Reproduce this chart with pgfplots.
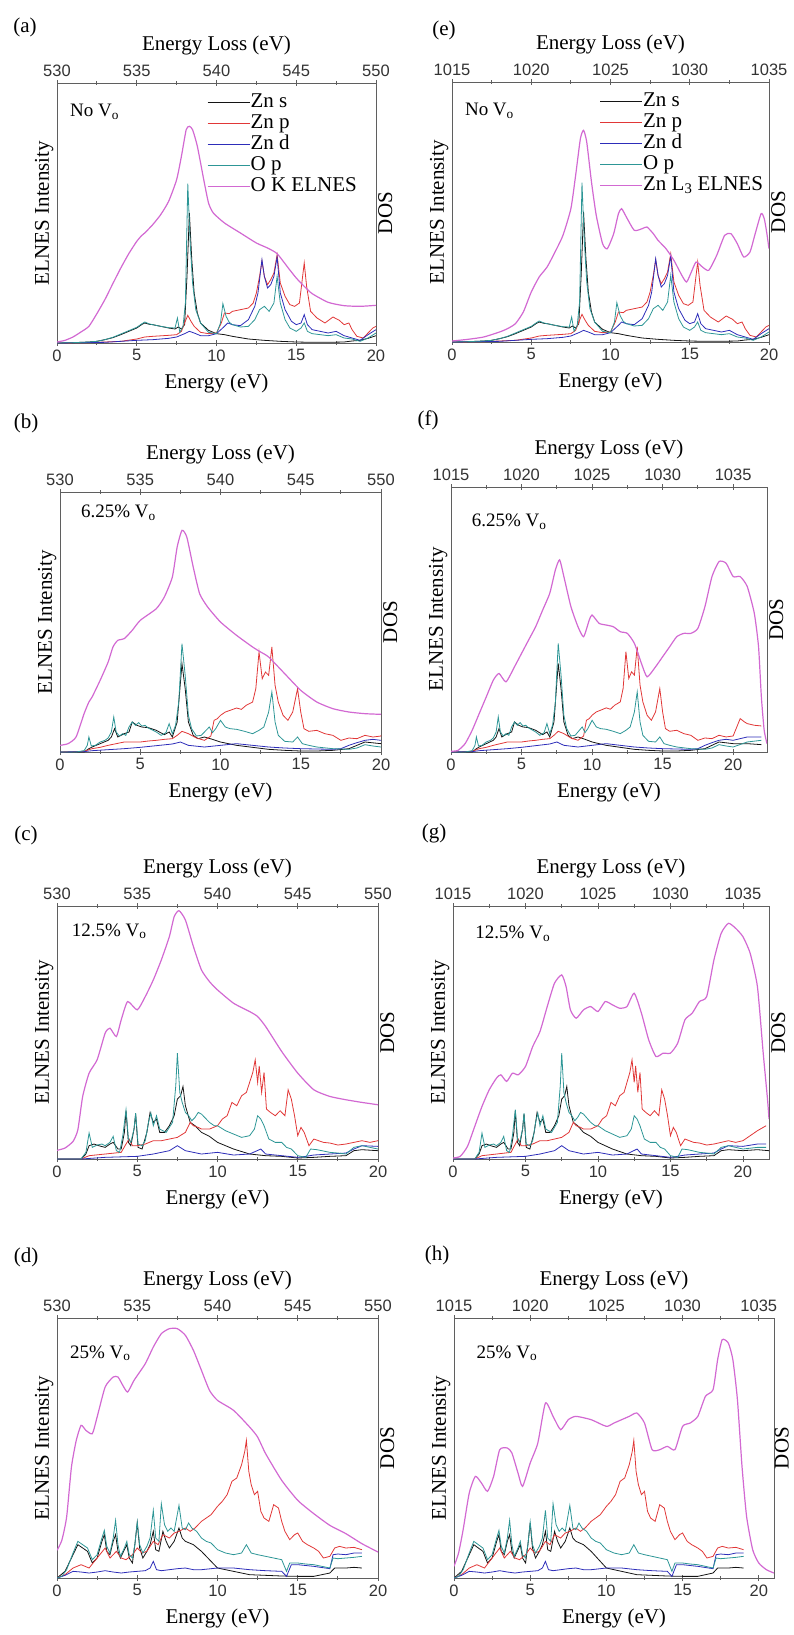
\documentclass[border=0pt]{standalone}
\usepackage{fontspec}
\setmainfont{Liberation Serif}
\newfontfamily\tickfont{Liberation Sans}
\usepackage{pgfplots}
\usepackage{pgfplotstable}
\pgfplotsset{compat=1.18}

\definecolor{cZs}{RGB}{20,20,20}
\definecolor{cZp}{RGB}{225,55,55}
\definecolor{cZd}{RGB}{45,45,185}
\definecolor{cOp}{RGB}{45,150,150}
\definecolor{cEL}{RGB}{210,105,210}
\definecolor{frame}{RGB}{95,95,95}

\newcommand\lbl{\rmfamily\fontsize{21}{24}\selectfont}
\newcommand\tag{\rmfamily\fontsize{19}{22}\selectfont}
\newcommand\mktab[2]{\pgfplotstableread[row sep=\\]{x y\\ #2}#1}

% DOS, no vacancies (a, e)
\mktab\Azs{0 0\\1 1\\2 3\\2.5 5\\3 10\\3.5 16\\4 25\\4.5 35\\5 45\\5.3 55\\5.5 60\\5.8 56\\6 55\\6.5 50\\7 45\\7.4 42\\7.6 48\\7.8 42\\8 55\\8.15 200\\8.3 390\\8.45 250\\8.6 150\\8.8 90\\9 60\\9.5 38\\10 28\\10.5 25\\11 20\\12 12\\13 8\\14 5\\15 3\\16 2\\17 2\\18 3\\18.5 6\\19 8\\19.5 14\\20 22\\}
\mktab\Azp{0 0\\2 1\\3 3\\4 5\\5 12\\5.5 18\\6 20\\7 23\\7.5 25\\7.8 35\\8 60\\8.2 83\\8.4 65\\8.6 50\\9 32\\9.5 28\\10 30\\10.3 60\\10.5 90\\10.8 88\\11 95\\11.5 100\\12 105\\12.3 120\\12.5 150\\12.7 200\\12.85 246\\13 200\\13.2 175\\13.4 190\\13.6 210\\13.8 265\\14 180\\14.3 140\\14.6 115\\14.9 110\\15.2 120\\15.35 180\\15.5 240\\15.65 170\\15.9 95\\16.3 75\\16.8 60\\17.3 78\\17.7 68\\18 55\\18.3 60\\18.5 40\\18.8 20\\19.2 15\\19.5 30\\19.8 45\\20 50\\}
\mktab\Azd{0 0\\3 2\\5 8\\6 10\\7 14\\7.5 18\\8 28\\8.3 35\\8.6 30\\9 22\\9.5 22\\10 28\\10.5 50\\10.7 60\\11 55\\11.5 52\\12 70\\12.4 110\\12.6 150\\12.85 250\\13 200\\13.2 165\\13.4 175\\13.6 200\\13.8 258\\14 150\\14.3 100\\14.7 65\\15 55\\15.3 60\\15.5 85\\15.7 55\\16 40\\17 30\\17.5 35\\18 22\\18.5 15\\19 8\\19.5 25\\20 40\\}
\mktab\Aop{0 0\\1 1\\2 3\\2.5 5\\3 10\\3.5 17\\4 27\\4.5 37\\5 47\\5.3 57\\5.5 63\\5.8 57\\6 55\\6.5 50\\7 46\\7.4 45\\7.55 75\\7.7 32\\7.9 50\\8.05 120\\8.2 478\\8.35 300\\8.5 180\\8.7 100\\9 60\\9.5 32\\10 28\\10.25 60\\10.4 118\\10.6 80\\10.8 62\\11 55\\11.5 48\\12 50\\12.4 70\\12.7 100\\13 110\\13.3 95\\13.6 120\\13.8 200\\14 120\\14.3 70\\14.6 45\\15 35\\15.3 45\\15.5 60\\15.7 35\\16 28\\17 22\\17.5 25\\18 15\\18.5 12\\19 5\\19.5 15\\20 30\\}

% DOS, 6.25% (b, f)
\mktab\Bzs{0 0\\1.5 0\\1.8 10\\2 15\\2.5 25\\3 35\\3.2 45\\3.4 70\\3.6 45\\4 55\\4.3 60\\4.5 90\\4.8 80\\5.1 75\\5.5 73\\6 65\\6.5 52\\6.8 60\\7 45\\7.3 90\\7.6 265\\7.8 190\\8 90\\8.3 50\\8.6 40\\9 45\\9.5 38\\10 30\\11 20\\12 14\\13 8\\14 5\\15 3\\16 3\\17 5\\18 10\\18.5 20\\19 30\\20 25\\21 25\\22 22\\}
\mktab\Bzp{0 0\\1.5 2\\2 10\\2.5 14\\3 20\\3.5 25\\4 30\\5 30\\5.5 33\\6 35\\6.5 38\\7 40\\7.3 50\\7.6 62\\8 55\\8.5 42\\9 35\\9.4 48\\9.6 95\\9.8 100\\10 110\\10.3 120\\10.6 125\\11 132\\11.3 128\\11.6 140\\12 150\\12.2 190\\12.4 300\\12.6 220\\12.8 240\\13 230\\13.2 315\\13.4 200\\13.6 150\\13.9 110\\14.2 95\\14.5 120\\14.8 190\\15 120\\15.2 70\\15.5 62\\16 65\\16.5 55\\17 50\\17.5 35\\18 42\\18.5 40\\19 50\\19.5 45\\20 48\\20.5 100\\20.8 90\\21 85\\21.5 80\\22 78\\}
\mktab\Bzd{0 0\\1.5 1\\2 4\\3 7\\4 10\\5 14\\6 19\\7 24\\7.5 30\\8 20\\9 15\\10 20\\11 25\\12 20\\13 15\\14 12\\15 10\\16 9\\17 8\\17.5 10\\18 20\\18.5 28\\19 35\\19.5 38\\20 35\\21 45\\22 45\\}
\mktab\Bop{0 0\\1 0\\1.5 4\\1.7 20\\1.8 45\\1.95 18\\2.2 20\\2.5 30\\2.8 35\\3 42\\3.2 60\\3.35 105\\3.5 60\\3.7 48\\3.9 55\\4.1 50\\4.3 75\\4.5 90\\4.7 80\\4.9 88\\5.1 78\\5.3 80\\5.5 72\\5.8 65\\6 60\\6.3 50\\6.6 58\\6.8 85\\7 55\\7.2 80\\7.4 150\\7.6 325\\7.8 230\\8 110\\8.2 70\\8.5 48\\8.8 50\\9.1 65\\9.3 75\\9.5 58\\9.7 70\\10 95\\10.3 75\\10.6 70\\11 68\\11.5 62\\12 55\\12.4 65\\12.7 75\\13 120\\13.2 180\\13.4 90\\13.6 50\\14 32\\14.5 30\\14.8 45\\15.1 25\\15.5 20\\16 15\\17 10\\18 8\\18.5 12\\19 22\\19.5 18\\20 15\\21 30\\22 35\\}

% DOS, 12.5% (c, g)
\mktab\Czs{0 0\\1.5 0\\1.8 15\\2 40\\2.3 45\\2.6 40\\3 35\\3.3 45\\3.5 50\\3.8 30\\4 30\\4.2 80\\4.3 145\\4.45 50\\4.6 40\\4.8 90\\4.9 135\\5.05 35\\5.3 30\\5.6 80\\5.8 140\\6 110\\6.2 120\\6.4 80\\6.7 80\\7 100\\7.3 130\\7.5 180\\7.7 190\\7.85 218\\8 160\\8.3 110\\8.6 100\\9 80\\9.5 68\\10 50\\10.5 40\\11 30\\12 15\\13 10\\14 8\\15 3\\16 5\\17 8\\18 10\\18.5 25\\19 28\\20 25\\21 28\\21.8 25\\}
\mktab\Czp{0 0\\1.5 0\\2 10\\3 15\\4 20\\4.3 45\\4.5 60\\4.7 40\\5 40\\5.5 45\\6 55\\6.5 55\\7 60\\7.5 65\\8 80\\8.3 110\\8.5 100\\8.8 95\\9 90\\9.5 90\\10 100\\10.3 120\\10.6 130\\10.9 170\\11.2 160\\11.5 190\\11.8 200\\12 230\\12.2 260\\12.35 298\\12.5 230\\12.6 280\\12.75 200\\12.9 260\\13.05 150\\13.3 140\\13.6 130\\13.9 145\\14.2 130\\14.4 208\\14.6 180\\14.8 130\\15 70\\15.2 95\\15.4 80\\15.7 40\\16 60\\16.3 55\\16.6 50\\17 48\\17.5 42\\18 45\\18.5 50\\19 55\\19.5 50\\20 55\\20.5 70\\21 85\\21.6 100\\}
\mktab\Czd{0 0\\1.5 0\\3 5\\5 8\\6 15\\7 25\\7.5 40\\8 25\\9 15\\10 20\\11 12\\12 15\\12.7 30\\13 15\\14 10\\15 5\\15.5 8\\16 12\\17 15\\18 18\\18.5 30\\19 40\\20 38\\21 45\\21.6 45\\}
\mktab\Cop{0 0\\1.5 0\\1.8 20\\2 78\\2.2 35\\2.5 42\\2.8 45\\3 40\\3.3 50\\3.5 68\\3.7 25\\3.9 20\\4.1 70\\4.3 148\\4.45 60\\4.6 50\\4.8 90\\4.9 138\\5.05 45\\5.3 40\\5.5 55\\5.7 110\\5.85 138\\6 100\\6.2 130\\6.4 90\\6.6 85\\6.8 80\\7 95\\7.2 110\\7.4 220\\7.5 318\\7.65 200\\7.8 170\\8 140\\8.2 130\\8.4 115\\8.6 125\\8.8 140\\9 135\\9.3 120\\9.5 110\\9.8 100\\10 100\\10.5 85\\11 75\\11.5 65\\12 70\\12.3 90\\12.5 130\\12.7 120\\12.9 100\\13.2 60\\13.6 50\\14 50\\14.3 35\\14.6 30\\15 10\\15.5 5\\15.8 30\\16.2 28\\17 20\\17.5 18\\18 15\\18.5 35\\19 40\\19.5 35\\20 30\\21 35\\21.6 35\\}

% DOS, 25% (d, h)
\mktab\Dzs{0 0\\0.5 20\\1 70\\1.3 100\\1.6 90\\1.9 80\\2.2 45\\2.5 60\\2.8 110\\2.95 130\\3.1 80\\3.3 70\\3.5 110\\3.65 130\\3.8 80\\3.95 60\\4.2 85\\4.35 100\\4.5 60\\4.7 45\\4.85 100\\5 165\\5.15 90\\5.35 60\\5.6 80\\5.8 100\\6 140\\6.15 85\\6.35 80\\6.6 140\\6.8 110\\7 90\\7.3 110\\7.6 150\\7.8 120\\8 110\\8.5 100\\9 80\\9.5 55\\10 30\\11 20\\12 10\\13 8\\14 6\\15 5\\16 5\\17 15\\17.3 30\\18 30\\18.5 32\\19 30\\}
\mktab\Dzp{0 0\\0.5 10\\1 30\\1.5 40\\2 30\\2.5 60\\3 90\\3.3 60\\3.7 80\\4 60\\4.3 55\\4.7 70\\5 90\\5.3 75\\5.6 80\\6 110\\6.3 100\\6.6 130\\7 120\\7.3 135\\7.6 140\\8 150\\8.3 140\\8.6 150\\9 170\\9.3 180\\9.6 190\\10 215\\10.3 230\\10.6 250\\10.9 290\\11.2 300\\11.5 340\\11.7 380\\11.8 413\\11.95 320\\12.1 280\\12.3 250\\12.5 260\\12.7 200\\12.9 180\\13.2 170\\13.5 220\\13.8 210\\14 170\\14.2 140\\14.5 115\\14.8 130\\15 135\\15.3 110\\15.6 100\\16 90\\16.3 80\\16.6 60\\17 65\\17.3 90\\17.6 95\\18 90\\18.5 92\\19 85\\}
\mktab\Dzd{0 0\\0.5 8\\1 20\\1.5 18\\2 15\\2.5 18\\3 22\\3.5 18\\4 15\\4.5 18\\5 20\\5.5 22\\5.8 30\\6 50\\6.2 25\\6.5 22\\7 25\\7.5 28\\8 30\\8.5 25\\9 25\\10 30\\11 30\\12 25\\13 22\\14 20\\14.3 5\\14.6 40\\15 40\\16 35\\17 28\\17.2 70\\17.5 72\\18 70\\18.5 75\\19 75\\}
\mktab\Dop{0 0\\0.3 5\\0.6 25\\1 75\\1.3 110\\1.6 100\\1.9 90\\2.2 55\\2.5 70\\2.8 120\\2.95 143\\3.1 95\\3.3 75\\3.5 120\\3.65 173\\3.8 100\\3.95 65\\4.2 90\\4.35 110\\4.5 70\\4.7 60\\4.85 100\\5 168\\5.15 100\\5.35 75\\5.6 95\\5.8 120\\6 203\\6.15 120\\6.35 110\\6.5 223\\6.7 160\\6.9 140\\7.1 150\\7.3 140\\7.6 218\\7.8 150\\8 145\\8.2 165\\8.4 150\\8.7 140\\9 120\\9.3 110\\9.6 105\\10 85\\10.5 75\\11 70\\11.5 75\\11.8 100\\12.1 75\\12.5 70\\13 65\\13.5 60\\14 55\\14.3 20\\14.5 45\\15 45\\15.5 42\\16 40\\16.5 35\\17 30\\17.2 60\\17.5 58\\18 60\\18.5 62\\19 65\\}

% ELNES
\mktab\ELa{0 3\\0.5 8\\1 18\\1.5 33\\2 50\\2.5 88\\3 130\\3.5 178\\4 225\\4.5 268\\5 305\\5.3 322\\5.5 330\\6 355\\6.5 385\\7 425\\7.5 490\\7.8 560\\8.1 640\\8.3 650\\8.5 640\\8.8 590\\9.2 490\\9.5 420\\9.8 390\\10.5 360\\11.5 330\\12.5 300\\13.2 285\\13.8 268\\14.5 225\\15 195\\15.5 170\\16 148\\17 122\\18 112\\19 110\\20 113\\}
\mktab\ELe{0 3\\1 8\\2 15\\3 30\\3.5 40\\4 55\\4.5 90\\5 150\\5.5 195\\6 225\\6.5 270\\7 320\\7.5 400\\7.8 500\\8.1 610\\8.3 635\\8.5 600\\8.8 480\\9.1 380\\9.5 295\\9.8 280\\10.2 325\\10.5 385\\10.7 400\\11 375\\11.5 335\\12 340\\12.3 345\\12.7 325\\13 305\\13.5 280\\14 245\\14.5 200\\14.8 180\\15.1 210\\15.4 240\\15.8 225\\16.2 215\\16.7 260\\17.2 320\\17.6 325\\18 295\\18.4 255\\18.8 270\\19.1 320\\19.5 385\\19.7 370\\19.85 330\\20 280\\}
\mktab\ELb{0 20\\0.5 25\\1 45\\1.5 115\\1.8 150\\2 165\\2.5 215\\3 270\\3.3 315\\3.6 335\\4 340\\4.5 365\\5 395\\6 430\\6.5 465\\7 525\\7.3 615\\7.6 665\\7.9 645\\8.3 555\\8.7 475\\9.2 435\\10 390\\11 350\\12 315\\12.5 300\\13 285\\14 235\\15 185\\16 150\\17 130\\18 120\\19 115\\20 113\\}
\mktab\ELf{0 2\\0.5 5\\1 25\\1.5 65\\2 115\\2.5 165\\3 215\\3.4 235\\3.9 210\\4.5 255\\5 295\\5.5 335\\6 375\\6.5 425\\7 475\\7.4 545\\7.7 575\\8 525\\8.5 435\\9 375\\9.4 345\\9.8 395\\10 410\\10.5 385\\11 380\\11.5 375\\12 360\\12.5 355\\13 325\\13.5 265\\13.9 225\\14.5 255\\15 285\\15.5 315\\16 345\\16.5 355\\17 355\\17.5 370\\18 435\\18.5 525\\19 570\\19.5 565\\20 525\\20.5 525\\21 495\\21.5 415\\21.8 315\\22 165\\22.2 65\\22.4 25\\}
\mktab\ELc{0 26\\0.5 33\\1 53\\1.3 88\\1.6 188\\2 258\\2.5 298\\3 378\\3.3 393\\3.7 368\\4 418\\4.4 473\\5 448\\5.5 488\\6 538\\6.5 598\\7 668\\7.3 728\\7.6 746\\8 718\\8.5 638\\9 568\\9.5 533\\10 508\\11 468\\12 443\\12.5 428\\13 398\\14 323\\15 258\\16 208\\17 188\\18 178\\19 170\\20 163\\}
\mktab\ELg{0 3\\0.5 8\\1 38\\1.5 98\\2 158\\2.5 208\\3 243\\3.3 253\\3.7 233\\4.1 258\\4.5 253\\5 278\\5.5 338\\6 383\\6.5 458\\7 528\\7.5 553\\7.8 518\\8.1 448\\8.5 423\\9 448\\9.5 458\\10 443\\10.5 473\\11 463\\11.5 453\\12 458\\12.5 498\\13 438\\13.5 358\\14 308\\14.5 318\\15 318\\15.5 348\\16 418\\16.5 438\\17 473\\17.5 488\\18 598\\18.5 678\\19 708\\19.5 693\\20 668\\20.5 618\\21 518\\21.4 318\\21.7 178\\21.8 120\\}
\mktab\ELd{0 83\\0.3 113\\0.6 183\\0.9 333\\1.2 413\\1.5 458\\1.8 443\\2.2 433\\2.5 483\\3 573\\3.5 603\\3.8 603\\4.1 578\\4.4 558\\4.8 593\\5.5 643\\6 693\\6.5 733\\7 748\\7.5 748\\8 728\\8.5 683\\9 623\\9.5 563\\10 533\\11 503\\12 453\\12.5 423\\13 373\\14 293\\15 233\\16 193\\17 158\\18 133\\19 103\\20 78\\}
\mktab\ELh{0 35\\0.3 75\\0.6 145\\1 255\\1.4 305\\1.8 285\\2.2 260\\2.6 305\\3 385\\3.5 390\\3.8 375\\4.2 315\\4.5 275\\5 345\\5.5 405\\6 525\\6.5 485\\7 445\\7.5 475\\8 485\\9 475\\10 455\\10.5 465\\11 475\\11.5 485\\12 495\\12.5 465\\13 385\\13.5 385\\14 395\\14.5 385\\15 455\\15.5 465\\16 485\\16.5 545\\17 565\\17.3 655\\17.6 715\\18 705\\18.3 655\\18.6 535\\18.9 335\\19.2 185\\19.6 85\\20 45\\20.5 25\\21 15\\}

\tikzset{dos/.style={font=\lbl, rotate=90, anchor=north, inner sep=2pt}}

\pgfplotsset{
  zs/.style={cZs, line width=0.8pt},
  zp/.style={cZp, line width=0.8pt},
  zd/.style={cZd, line width=0.8pt},
  op/.style={cOp, line width=0.8pt},
  el/.style={cEL, line width=1.2pt, smooth, tension=0.35},
  common/.style={
    scale only axis, anchor=south west, ymin=0, xmin=0,
    clip mode=individual,
    axis line style={frame, line width=0.8pt},
    tick align=center, major tick length=6pt, minor tick length=3.5pt,
    every tick/.style={frame, line width=0.8pt},
    tick label style={font=\tickfont\fontsize{16.5}{18}\selectfont, text=black!80},
    /pgf/number format/assume math mode=true,
    /pgf/number format/1000 sep={},
    minor x tick num=1, ytick=\empty,
  },
  bot/.style={common,
    xtick={0,5,...,20}, xtick pos=left,
    xlabel={Energy (eV)},
    every axis x label/.style={at={(axis description cs:0.5,0)}, anchor=center, yshift=-40pt, font=\lbl},
    ylabel={ELNES Intensity},
    every axis y label/.style={at={(axis description cs:0,0.5)}, rotate=90, anchor=south, font=\lbl},
    legend style={draw=none, fill=none, font=\lbl, anchor=north west,
      nodes={inner sep=0.5pt, text height=15pt, text depth=5pt}},
    legend cell align=left,
    legend image code/.code={\draw[#1] (0pt,0pt) -- (42pt,0pt);},
  },
  top/.style={common,
    axis x line=top, axis y line=none, axis line style={-},
    ymax=1,
    xlabel={Energy Loss (eV)},
    every axis x label/.style={at={(axis description cs:0.5,1)}, anchor=center, yshift=38pt, font=\lbl},
  },
}

\begin{document}
\begin{tikzpicture}

% (a)
\begin{axis}[bot, at={(57pt,-343pt)}, width=319pt, height=260pt, xmax=20, ymax=780,
  legend style={at={(0.46,0.975)}}]
\addplot[zs] table {\Azs}; \addlegendentry{Zn s}
\addplot[zp] table {\Azp}; \addlegendentry{Zn p}
\addplot[zd] table {\Azd}; \addlegendentry{Zn d}
\addplot[op] table {\Aop}; \addlegendentry{O p}
\addplot[el] table {\ELa}; \addlegendentry{O K ELNES}
\node[font=\tag, anchor=west] at (rel axis cs:0.03,0.89) {No V\textsubscript{o}};
\node[dos] at (rel axis cs:1,0.5) {DOS};
\end{axis}
\begin{axis}[top, at={(57pt,-343pt)}, width=319pt, height=260pt, xmin=530, xmax=550, xtick={530,535,...,550}]
\addplot[draw=none] coordinates {(530,0)};
\end{axis}

% (e)
\begin{axis}[bot, at={(452pt,-342pt)}, width=317pt, height=260pt, xmax=20, ymax=780,
  legend style={at={(0.455,0.975)}}]
\addplot[zs] table {\Azs}; \addlegendentry{Zn s}
\addplot[zp] table {\Azp}; \addlegendentry{Zn p}
\addplot[zd] table {\Azd}; \addlegendentry{Zn d}
\addplot[op] table {\Aop}; \addlegendentry{O p}
\addplot[el] table {\ELe}; \addlegendentry{Zn L\textsubscript{3} ELNES}
\node[font=\tag, anchor=west] at (rel axis cs:0.03,0.89) {No V\textsubscript{o}};
\node[dos] at (rel axis cs:1,0.5) {DOS};
\end{axis}
\begin{axis}[top, at={(452pt,-342pt)}, width=317pt, height=260pt, xmin=1015, xmax=1035, xtick={1015,1020,...,1035}]
\addplot[draw=none] coordinates {(1015,0)};
\end{axis}

% (b)
\begin{axis}[bot, at={(60pt,-752pt)}, width=321pt, height=260pt, xmax=20, ymax=780]
\addplot[zs] table {\Bzs};
\addplot[zp] table {\Bzp};
\addplot[zd] table {\Bzd};
\addplot[op] table {\Bop};
\addplot[el] table {\ELb};
\node[font=\tag, anchor=west] at (rel axis cs:0.055,0.92) {6.25\% V\textsubscript{o}};
\node[dos] at (rel axis cs:1,0.5) {DOS};
\end{axis}
\begin{axis}[top, at={(60pt,-752pt)}, width=321pt, height=260pt, xmin=530, xmax=550, xtick={530,535,...,550}]
\addplot[draw=none] coordinates {(530,0)};
\end{axis}

% (f)
\begin{axis}[bot, at={(451pt,-752pt)}, width=316pt, height=265pt, xmax=22.4, ymax=793]
\addplot[zs] table {\Bzs};
\addplot[zp] table {\Bzp};
\addplot[zd] table {\Bzd};
\addplot[op] table {\Bop};
\addplot[el] table {\ELf};
\node[font=\tag, anchor=west] at (rel axis cs:0.055,0.87) {6.25\% V\textsubscript{o}};
\node[dos] at (rel axis cs:1,0.5) {DOS};
\end{axis}
\begin{axis}[top, at={(451pt,-752pt)}, width=316pt, height=265pt, xmin=1015, xmax=1037.4, xtick={1015,1020,...,1035}]
\addplot[draw=none] coordinates {(1015,0)};
\end{axis}

% (c)
\begin{axis}[bot, at={(57pt,-1159pt)}, width=321pt, height=253pt, xmax=20, ymax=760]
\addplot[zs] table {\Czs};
\addplot[zp] table {\Czp};
\addplot[zd] table {\Czd};
\addplot[op] table {\Cop};
\addplot[el] table {\ELc};
\node[font=\tag, anchor=west] at (rel axis cs:0.035,0.9) {12.5\% V\textsubscript{o}};
\node[dos] at (rel axis cs:1,0.5) {DOS};
\end{axis}
\begin{axis}[top, at={(57pt,-1159pt)}, width=321pt, height=253pt, xmin=530, xmax=550, xtick={530,535,...,550}]
\addplot[draw=none] coordinates {(530,0)};
\end{axis}

% (g)
\begin{axis}[bot, at={(453pt,-1159pt)}, width=316pt, height=253pt, xmax=21.8, ymax=760]
\addplot[zs] table {\Czs};
\addplot[zp] table {\Czp};
\addplot[zd] table {\Czd};
\addplot[op] table {\Cop};
\addplot[el] table {\ELg};
\node[font=\tag, anchor=west] at (rel axis cs:0.06,0.89) {12.5\% V\textsubscript{o}};
\node[dos] at (rel axis cs:1,0.5) {DOS};
\end{axis}
\begin{axis}[top, at={(453pt,-1159pt)}, width=316pt, height=253pt, xmin=1015, xmax=1036.8, xtick={1015,1020,...,1035}]
\addplot[draw=none] coordinates {(1015,0)};
\end{axis}

% (d)
\begin{axis}[bot, at={(57pt,-1578pt)}, width=321pt, height=260pt, xmax=20, ymax=780]
\addplot[zs] table {\Dzs};
\addplot[zp] table {\Dzp};
\addplot[zd] table {\Dzd};
\addplot[op] table {\Dop};
\addplot[el] table {\ELd};
\node[font=\tag, anchor=west] at (rel axis cs:0.03,0.865) {25\% V\textsubscript{o}};
\node[dos] at (rel axis cs:1,0.5) {DOS};
\end{axis}
\begin{axis}[top, at={(57pt,-1578pt)}, width=321pt, height=260pt, xmin=530, xmax=550, xtick={530,535,...,550}]
\addplot[draw=none] coordinates {(530,0)};
\end{axis}

% (h)
\begin{axis}[bot, at={(454pt,-1578pt)}, width=320pt, height=260pt, xmax=21, ymax=780]
\addplot[zs] table {\Dzs};
\addplot[zp] table {\Dzp};
\addplot[zd] table {\Dzd};
\addplot[op] table {\Dop};
\addplot[el] table {\ELh};
\node[font=\tag, anchor=west] at (rel axis cs:0.06,0.865) {25\% V\textsubscript{o}};
\node[dos, inner sep=0.5pt] at (rel axis cs:1,0.5) {DOS};
\end{axis}
\begin{axis}[top, at={(454pt,-1578pt)}, width=320pt, height=260pt, xmin=1015, xmax=1036, xtick={1015,1020,...,1035}]
\addplot[draw=none] coordinates {(1015,0)};
\end{axis}

% panel letters
\node[font=\lbl] at (25pt,-27pt) {(a)};
\node[font=\lbl] at (444pt,-30pt) {(e)};
\node[font=\lbl] at (26pt,-423pt) {(b)};
\node[font=\lbl] at (428pt,-420pt) {(f)};
\node[font=\lbl] at (26pt,-835pt) {(c)};
\node[font=\lbl] at (434pt,-833pt) {(g)};
\node[font=\lbl] at (26pt,-1257pt) {(d)};
\node[font=\lbl] at (437pt,-1255pt) {(h)};

\pgfresetboundingbox
\path (0pt,0pt) rectangle (794pt,-1635pt);
\end{tikzpicture}
\end{document}
